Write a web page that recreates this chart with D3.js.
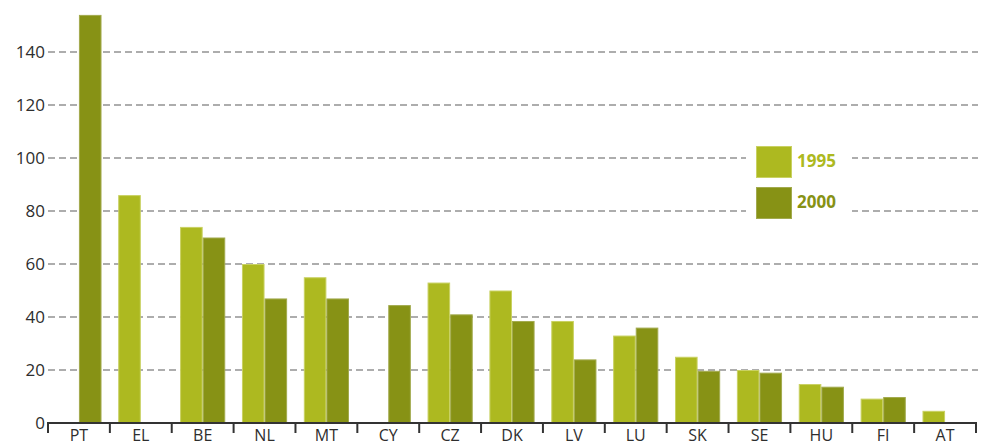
<!DOCTYPE html>
<html>
<head>
<meta charset="utf-8">
<script src="https://cdn.jsdelivr.net/npm/d3@7"></script>
<style>
  body { margin: 0; background: #fff; }
  text { font-family: "Open Sans", "DejaVu Sans", sans-serif; }
</style>
</head>
<body>
<script>
var width = 982,
  height = 446;

var countries = ["PT", "EL", "BE", "NL", "MT", "CY", "CZ", "DK", "LV", "LU", "SK", "SE", "HU", "FI", "AT"];
var years = ["1995", "2000"];
var values1995 = [null, 86, 74, 60, 55, null, 53, 50, 38.5, 33, 25, 20, 14.7, 9.2, 4.6];
var values2000 = [154, null, 70, 47, 47, 44.5, 41, 38.5, 24, 36, 19.7, 19, 13.7, 9.8, null];
var yTicks = [0, 20, 40, 60, 80, 100, 120, 140];

var colors = { "1995": "#adb920", "2000": "#879215" };
var strokes = { "1995": "#c9d162", "2000": "#a2aa4e" };

var rows = countries.map(function(c, i) {
  return { country: c, "1995": values1995[i], "2000": values2000[i] };
});

var x0 = d3.scaleBand()
  .domain(countries)
  .range([48, 976])
  .paddingInner(0.27)
  .paddingOuter(0.135);

var x1 = d3.scaleBand()
  .domain(years)
  .range([0, x0.bandwidth()]);

var y = d3.scaleLinear()
  .domain([0, 140])
  .range([423, 52]);

var svg = d3.select("body").append("svg")
  .attr("width", width)
  .attr("height", height);

// gridlines
svg.append("g")
  .selectAll("line")
  .data(yTicks.filter(function(d) { return d > 0; }))
  .enter().append("line")
    .attr("x1", 48)
    .attr("x2", 978)
    .attr("y1", function(d) { return y(d); })
    .attr("y2", function(d) { return y(d); })
    .attr("stroke", "#939393")
    .attr("stroke-width", 1.5)
    .attr("stroke-dasharray", "7,4");

// y labels
svg.append("g")
  .selectAll("text")
  .data(yTicks)
  .enter().append("text")
    .attr("x", 45)
    .attr("y", function(d) { return y(d); })
    .attr("dy", "0.35em")
    .attr("text-anchor", "end")
    .attr("font-size", "17px")
    .attr("fill", "#2e2e2e")
    .text(function(d) { return d; });

// legend background + items
var legend = svg.append("g")
  .attr("transform", "translate(756,146)");

legend.append("rect")
  .attr("x", -10)
  .attr("y", -8)
  .attr("width", 106)
  .attr("height", 84)
  .attr("fill", "#fff");

legend.selectAll("rect.key")
  .data(years)
  .enter().append("rect")
    .attr("class", "key")
    .attr("x", 0.5)
    .attr("y", function(d, i) { return i * 41 + 0.5; })
    .attr("width", 35)
    .attr("height", 31)
    .attr("fill", function(d) { return colors[d]; })
    .attr("stroke", function(d) { return strokes[d]; });

legend.selectAll("text")
  .data(years)
  .enter().append("text")
    .attr("x", 41)
    .attr("y", function(d, i) { return i * 41 + 21; })
    .attr("font-size", "17px")
    .attr("font-weight", "bold")
    .attr("fill", function(d) { return colors[d]; })
    .text(function(d) { return d; });

// bars
var groups = svg.append("g")
  .selectAll("g")
  .data(rows)
  .enter().append("g")
    .attr("transform", function(d) { return "translate(" + x0(d.country) + ",0)"; });

groups.selectAll("rect")
  .data(function(d) {
    return years.filter(function(k) { return d[k] != null; })
      .map(function(k) { return { key: k, value: d[k] }; });
  })
  .enter().append("rect")
    .attr("x", function(d) { return x1(d.key) + 0.5; })
    .attr("y", function(d) { return y(d.value) + 0.5; })
    .attr("width", x1.bandwidth() - 1)
    .attr("height", function(d) { return y(0) - y(d.value) - 0.5; })
    .attr("fill", function(d) { return colors[d.key]; })
    .attr("stroke", function(d) { return strokes[d.key]; })
    .attr("stroke-width", 1);

// x axis
var xAxis = svg.append("g");

xAxis.append("line")
  .attr("x1", 47)
  .attr("x2", 977)
  .attr("y1", 423)
  .attr("y2", 423)
  .attr("stroke", "#333")
  .attr("stroke-width", 2);

var step = x0.step();
xAxis.selectAll("line.tick")
  .data(d3.range(countries.length + 1))
  .enter().append("line")
    .attr("class", "tick")
    .attr("x1", function(i) { return 48 + i * step; })
    .attr("x2", function(i) { return 48 + i * step; })
    .attr("y1", 423)
    .attr("y2", 433)
    .attr("stroke", "#333")
    .attr("stroke-width", 2);

xAxis.selectAll("text")
  .data(countries)
  .enter().append("text")
    .attr("x", function(d) { return x0(d) + x0.bandwidth() / 2; })
    .attr("y", 441)
    .attr("text-anchor", "middle")
    .attr("font-size", "16px")
    .attr("fill", "#2e2e2e")
    .text(function(d) { return d; });
</script>
</body>
</html>
